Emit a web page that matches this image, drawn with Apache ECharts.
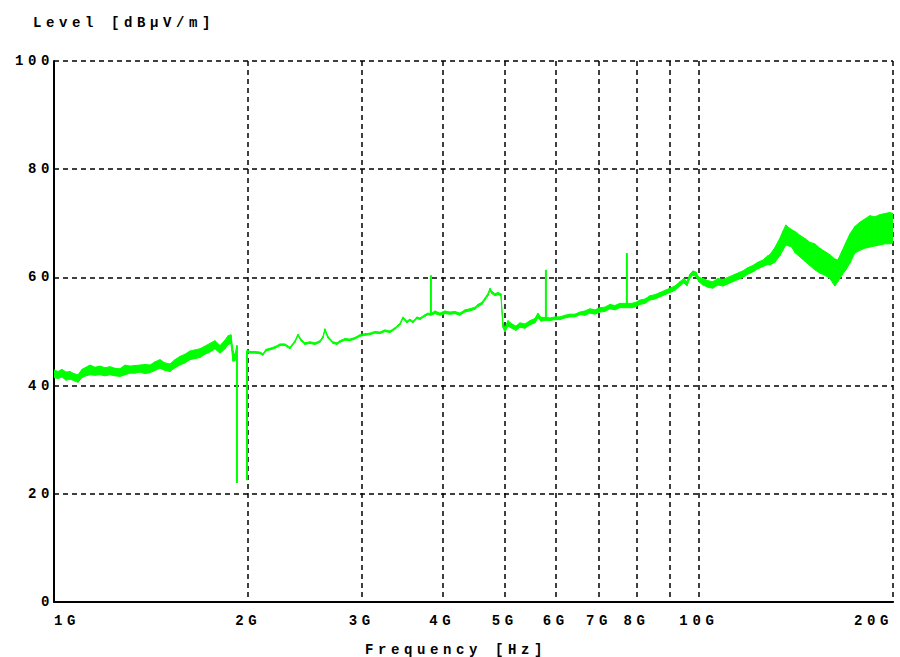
<!DOCTYPE html>
<html>
<head>
<meta charset="utf-8">
<script src="https://cdn.jsdelivr.net/npm/echarts@6/dist/echarts.min.js"></script>
<style>
  html, body { margin: 0; padding: 0; background: #fff; }
  #chart { width: 900px; height: 657px; }
  #chart text { letter-spacing: 4.6px; }
</style>
</head>
<body>
<div id="chart"></div>
<script>
// Frequency in GHz
const FREQ = [
  1.0000,1.0144,1.0290,1.0438,1.0588,1.0740,1.0895,1.1051,1.1210,1.1371,
  1.1576,1.1785,1.1997,1.2213,1.2433,1.2657,1.2885,1.3117,1.3353,1.3594,
  1.3838,1.4087,1.4341,1.4600,1.4862,1.5130,1.5403,1.5680,1.5963,1.6250,
  1.6543,1.6841,1.7144,1.7453,1.7767,1.8087,1.8413,1.8611,1.8811,1.8946,
  1.9082,1.9218,1.9917,2.0131,2.0494,2.0863,2.1088,2.1315,2.1622,2.2011,
  2.2407,2.2811,2.3222,2.3640,2.3894,2.4152,2.4499,2.4940,2.5389,2.5846,
  2.6125,2.6312,2.6595,2.7074,2.7464,2.7759,2.8259,2.8768,2.9286,2.9814,
  3.0351,3.0897,3.1454,3.2020,3.2597,3.3184,3.3782,3.4390,3.4760,3.5260,
  3.5640,3.6024,3.6542,3.6936,3.7601,3.8006,3.8415,3.8968,3.9670,4.0384,
  4.1111,4.1852,4.2606,4.3373,4.4154,4.4949,4.5433,4.6087,4.6583,4.7085,
  4.7422,4.7762,4.8276,4.8796,4.9321,4.9675,5.0031,5.0570,5.1297,5.2035,
  5.2783,5.3734,5.4701,5.5687,5.6286,5.6892,5.7917,5.8750,5.9808,6.0885,
  6.1981,6.3097,6.4234,6.5391,6.6568,6.7767,6.8988,7.0230,7.1495,7.2783,
  7.4094,7.5428,7.7337,7.8730,7.9862,8.1010,8.2469,8.3954,8.5466,8.7005,
  8.8572,9.0167,9.1791,9.3444,9.4788,9.5809,9.6840,9.7883,9.8937,10.000,
  10.144,10.326,10.512,10.701,10.894,11.090,11.290,11.493,11.700,11.911,
  12.126,12.344,12.566,12.793,12.884,13.116,13.352,13.496,13.641,13.788,
  13.937,14.087,14.340,14.599,14.862,15.129,15.402,15.679,15.962,16.249,
  16.424,16.660,16.900,17.143,17.452,17.766,18.086,18.412,18.743,19.081,
  19.424,19.774,20.000
];
// Lower edge of the trace (dBµV/m)
const LEVEL_LO = [
  41.5,41.3,41.6,41.0,41.2,40.9,40.6,41.5,41.8,42.0,
  41.9,42.0,41.8,42.0,41.8,41.7,42.0,42.3,42.3,42.5,
  42.2,42.4,42.8,43.2,42.8,42.6,43.3,43.8,44.2,44.8,
  45.0,45.2,45.8,46.2,46.8,46.0,46.8,47.6,47.8,44.5,
  44.6,47.2,46.3,46.0,46.0,45.9,45.6,46.4,46.6,46.9,
  47.4,47.4,46.8,48.0,49.2,48.3,47.6,47.8,47.6,48.0,
  48.8,50.2,48.8,47.8,47.6,48.0,48.4,48.3,48.6,49.1,
  49.3,49.4,49.7,49.6,50.0,49.8,50.4,51.2,52.4,51.6,
  52.0,51.6,52.4,52.2,52.8,53.1,53.0,53.3,53.0,53.3,
  53.2,53.3,53.0,53.6,53.8,54.1,54.6,55.0,55.8,56.6,
  57.5,57.0,56.6,56.8,56.6,50.8,49.9,51.0,50.6,50.2,
  50.8,50.6,51.2,51.6,52.5,51.9,52.1,52.0,52.2,52.2,
  52.5,52.7,52.7,53.1,53.0,53.4,53.2,53.6,53.7,54.2,
  54.0,54.4,54.4,54.4,54.6,55.0,55.2,55.8,56.0,56.4,
  56.8,57.2,57.6,58.4,59.0,58.4,59.8,60.4,60.2,59.2,
  58.6,58.2,58.0,58.6,58.4,58.8,59.2,59.6,60.0,60.6,
  61.0,61.6,62.0,62.4,62.3,62.8,64.0,65.0,66.0,65.8,
  65.6,64.6,63.8,63.0,62.2,61.4,60.8,60.4,59.8,58.4,
  59.2,60.4,61.4,62.6,64.5,65.0,65.4,65.6,65.8,66.0,
  66.2,66.2,66.4
];
// Upper edge of the trace (dBµV/m)
const LEVEL_HI = [
  42.9,42.6,43.0,42.5,42.6,42.2,42.0,43.0,43.4,43.8,
  43.4,43.6,43.3,43.5,43.2,43.1,43.8,43.6,43.7,43.8,
  43.9,43.8,44.4,44.8,44.2,44.0,44.8,45.4,45.8,46.4,
  46.6,46.8,47.3,47.8,48.3,47.4,48.4,49.2,49.4,46.5,
  45.5,47.5,46.6,46.3,46.3,46.2,45.9,46.7,46.9,47.2,
  47.7,47.7,47.1,48.3,49.5,48.6,47.9,48.1,47.9,48.3,
  49.1,50.5,49.1,48.1,47.9,48.3,48.7,48.6,48.9,49.4,
  49.6,49.7,50.0,49.9,50.3,50.1,50.7,51.5,52.7,51.9,
  52.3,51.9,52.7,52.5,53.1,53.4,53.3,53.8,53.4,53.8,
  53.6,53.7,53.4,54.0,54.2,54.5,55.0,55.4,56.2,57.0,
  58.0,57.4,57.0,57.2,57.0,51.6,50.6,52.0,51.4,51.0,
  51.6,51.4,52.0,52.4,53.4,52.6,52.6,52.5,52.7,52.7,
  53.0,53.2,53.2,53.6,53.8,54.2,54.0,54.4,54.5,55.0,
  54.8,55.2,55.2,55.2,55.4,55.8,56.0,56.6,56.8,57.2,
  57.6,58.0,58.4,59.2,59.8,59.2,60.6,61.2,61.0,60.0,
  59.8,59.4,59.2,59.8,59.6,60.0,60.4,60.8,61.2,61.8,
  62.2,62.8,63.2,64.0,64.2,65.5,67.2,68.5,69.7,69.2,
  68.8,68.5,67.8,67.2,66.5,66.2,65.4,64.8,64.2,63.4,
  63.2,64.8,66.4,68.0,69.4,70.2,70.8,71.4,71.2,71.6,
  71.8,72.0,71.8
];
// Trace is interrupted after this sample (between the two drop-outs near 2 GHz)
const TRACE_BREAK_AFTER = [1.9218];

// Narrow spikes: frequency, trace level, spike tip level
const SPIKE_FREQ = [1.9218, 1.9917, 3.8415, 5.7917, 7.7337];
const SPIKE_BASE = [47.3, 46.4, 53.2, 52.4, 54.8];
const SPIKE_TIP  = [22.0, 22.5, 60.4, 61.4, 64.5];

const X_GRID = [1, 2, 3, 4, 5, 6, 7, 8, 9, 10, 20];
const X_LABELS = [1, 2, 3, 4, 5, 6, 7, 8, 10, 20];
const Y_TICKS = [0, 20, 40, 60, 80, 100];

const GREEN = '#00ff00';
const FONT = 'Liberation Mono';

// one item per segment between consecutive samples
const bandData = FREQ.slice(0, -1).map((f, i) =>
  [f, LEVEL_LO[i], LEVEL_HI[i], FREQ[i + 1], LEVEL_LO[i + 1], LEVEL_HI[i + 1]]);

function renderBand(params, api) {
  const f0 = api.value(0), lo0 = api.value(1), hi0 = api.value(2);
  const f1 = api.value(3), lo1 = api.value(4), hi1 = api.value(5);
  if (TRACE_BREAK_AFTER.indexOf(f0) >= 0) return null;
  const pts = [
    api.coord([f0, hi0]), api.coord([f1, hi1]),
    api.coord([f1, lo1]), api.coord([f0, lo0])
  ];
  return {
    type: 'polygon',
    shape: { points: pts },
    style: { fill: GREEN, stroke: GREEN, lineWidth: 1 },
    silent: true
  };
}

const spikeSeries = SPIKE_FREQ.map((f, i) => ({
  type: 'line',
  data: [[f, SPIKE_BASE[i]], [f, SPIKE_TIP[i]]],
  symbol: 'none',
  lineStyle: { color: GREEN, width: 2 },
  z: 3,
  silent: true
}));

const chart = echarts.init(document.getElementById('chart'), null, { renderer: 'svg' });
chart.setOption({
  animation: false,
  backgroundColor: '#ffffff',
  title: [
    { text: 'Level [dBµV/m]', left: 28, top: 11,
      textStyle: { fontFamily: FONT, fontSize: 14, fontWeight: 'bold', color: '#000' } },
    { text: 'Frequency [Hz]', left: 360, top: 638,
      textStyle: { fontFamily: FONT, fontSize: 14, fontWeight: 'bold', color: '#000' } }
  ],
  grid: { left: 54, right: 7, top: 61, bottom: 55 },
  xAxis: {
    type: 'log',
    logBase: 10,
    min: 1,
    max: 20,
    axisLine: { show: true, onZero: false, lineStyle: { color: '#000', width: 2 } },
    axisTick: { show: false, customValues: X_GRID },
    splitLine: { show: true, lineStyle: { color: '#000', width: 1.5, type: [5, 4] } },
    axisLabel: {
      customValues: X_LABELS,
      fontFamily: FONT, fontSize: 14, fontWeight: 'bold', color: '#000',
      margin: 12,
      alignMinLabel: 'left',
      alignMaxLabel: 'right',
      formatter: v => v + 'G'
    }
  },
  yAxis: {
    type: 'value',
    min: 0,
    max: 100,
    interval: 20,
    axisLine: { show: true, lineStyle: { color: '#000', width: 2 } },
    axisTick: { show: false },
    splitLine: { show: true, lineStyle: { color: '#000', width: 1.5, type: [5, 4] } },
    axisLabel: {
      customValues: Y_TICKS,
      fontFamily: FONT, fontSize: 14, fontWeight: 'bold', color: '#000',
      margin: 0
    }
  },
  series: [
    {
      type: 'custom',
      renderItem: renderBand,
      data: bandData,
      encode: { x: [0, 3], y: [1, 2, 4, 5] },
      clip: true,
      z: 3,
      silent: true
    }
  ].concat(spikeSeries)
});
</script>
</body>
</html>
